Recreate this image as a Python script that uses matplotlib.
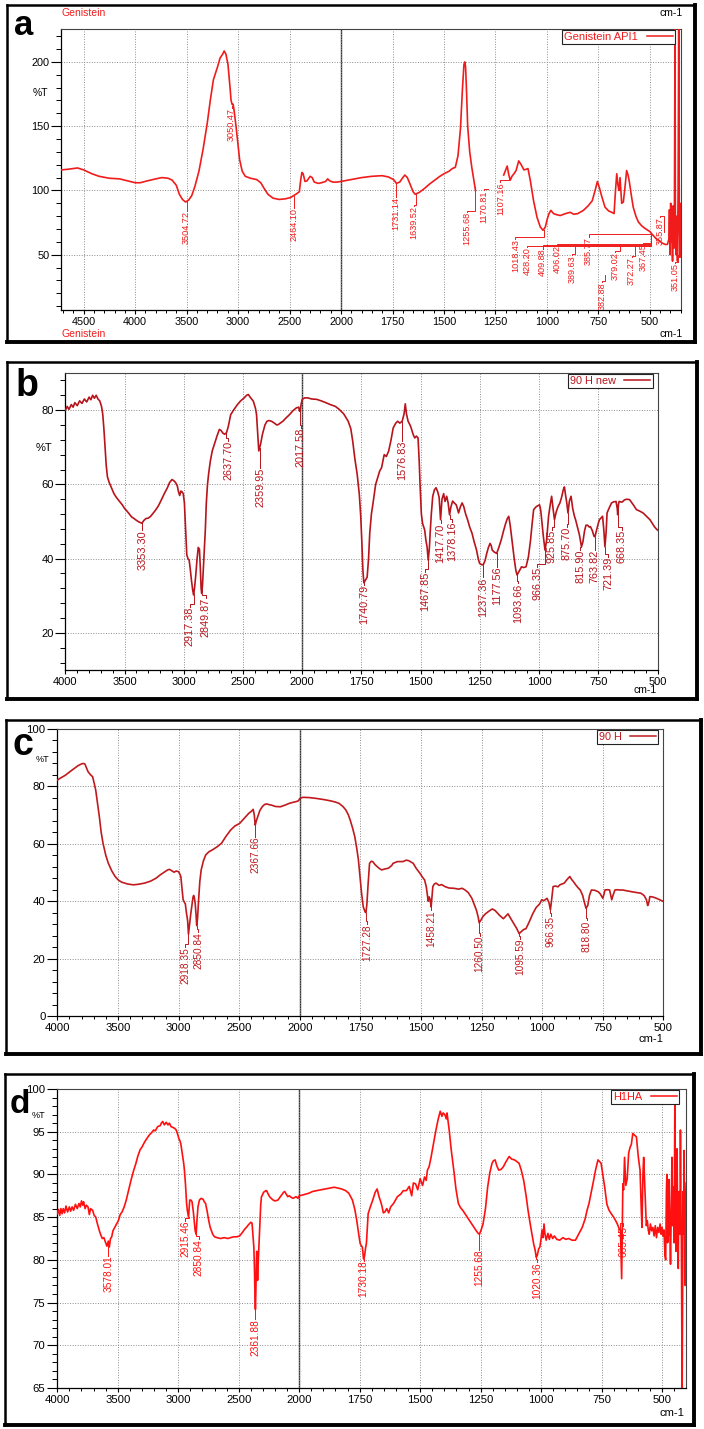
import numpy as np
import matplotlib
matplotlib.use("Agg")
import matplotlib.pyplot as plt
from matplotlib.lines import Line2D
from matplotlib.ticker import FixedLocator, MultipleLocator, FuncFormatter

plt.rcParams['font.family'] = ['Liberation Sans', 'DejaVu Sans']

nan = float('nan')

# ---------------- DATA ----------------
# Panel a : Genistein (wavenumber, %T)
a_pts = [(4716,116),(4650,116.5),(4560,117.5),(4500,116),(4420,113),(4350,111),(4250,109.5),(4150,109),
 (4050,107),(4000,106),(3950,106),(3880,107.5),(3800,109),(3740,110),(3680,109.5),(3640,108),(3600,104),
 (3570,97),(3540,93),(3510,91),(3480,92.5),(3450,96),(3420,103),(3380,115),(3340,132),(3300,152),(3270,170),
 (3240,186),(3200,196),(3175,203),(3150,206),(3135,208.5),(3118,206),(3098,198),(3078,180),(3068,170),
 (3058,167),(3048,167),(3040,163),(3020,150),(3000,135),(2985,124),(2960,115),(2930,111),(2880,109.5),
 (2820,108.5),(2780,106),(2750,102),(2710,97),(2660,94),(2600,93),(2540,93.5),(2490,94.5),(2460,96),
 (2430,97.5),(2405,99),(2392,108),(2380,114),(2368,113),(2350,107),(2330,107.5),(2300,111),(2280,110),
 (2260,106.5),(2220,105.5),(2190,106),(2150,107),(2130,109),(2110,107.5),(2080,106.5),(2040,106.5),
 (2000,107),(1950,108.5),(1900,110),(1850,111),(1800,111.5),(1770,110.5),(1745,108.5),(1731,105.5),
 (1715,106.5),(1700,110),(1690,112),(1678,110),(1665,105),(1650,99),(1640,97),(1620,98.5),(1595,101.5),
 (1570,105),(1545,108),(1520,111),(1500,113),(1475,115),(1460,117),(1445,118),(1432,127),(1420,148),
 (1410,180),(1403,198),(1399,200),(1395,196),(1390,175),(1385,150),(1375,130),(1365,118),(1355,108),
 (1347,100),(nan,nan),
 (1210,112),(1200,116),(1193,119),(1185,112),(1178,108),(1170,111),(1160,113),(1150,115.5),(1137,123),
 (1125,120),(1112,116),(1100,116.5),(1092,117),(1081,108),(1065,92),(1048,79),(1032,71.5),(1019,69),
 (1008,71.5),(998,78),(990,82),(981,84.5),(968,82),(950,81),(935,80.5),(910,82),(887,83),(870,81.5),
 (850,82),(823,84.5),(800,88),(780,92),(766,100),(755,107),(745,102),(735,96),(718,87),(700,84),(685,83),
 (674,82),(667,100),(661,113),(655,104),(650,100),(645,110),(640,98),(637,90),(629,91),(620,104),
 (613,115.5),(606,112),(600,107),(590,96),(581,87),(568,80),(556,75.5),(540,72.5),(524,70.5),(510,69),
 (500,68),(490,66),(484,65),(470,62.5),(455,61),(440,59),(425,58),(415,58),(408,62),(405,85),(402,50),
 (399,90),(396,60),(393,70),(390,45),(387,88),(384,55),(381,78),(378,226),(376,60),(372,50),(369,80),
 (366,45),(363,100),(360,226),(357,70),(354,48),(351,60),(349,90),(347,55)]

# Panel b : 90 H new
b_pts = [(4000,80),(3985,81),(3970,80.2),(3950,81.5),(3935,80.8),(3920,82),(3900,81.2),(3880,82.5),
 (3860,81.8),(3840,83),(3820,82.2),(3800,83.5),(3785,82.8),(3770,84),(3755,83.2),(3740,84),(3725,83),
 (3710,82.5),(3695,81),(3685,79),(3675,75),(3665,70),(3655,65),(3645,62),(3630,60.5),(3610,59),
 (3590,57.5),(3570,56.5),(3545,55.5),(3520,54.5),(3500,53.5),(3480,52.8),(3460,52),(3440,51.2),
 (3420,50.8),(3400,50.3),(3380,49.9),(3360,49.6),(3353,49.5),(3340,50.2),(3320,50.8),(3300,50.9),
 (3280,51.4),(3260,52.2),(3240,53),(3215,54.2),(3190,55.8),(3165,57.5),(3140,59),(3120,60.5),(3100,61.3),
 (3085,61),(3070,60.5),(3055,59.6),(3045,58),(3035,57),(3025,58.2),(3015,58),(3005,57.5),(2995,55),
 (2985,48),(2975,41),(2965,40),(2955,39.6),(2945,37),(2935,34),(2925,31.5),(2917,30.2),(2908,32.5),
 (2898,36),(2888,40),(2878,43),(2868,42.5),(2860,37),(2854,32),(2849,30.6),(2842,33),(2834,38),
 (2826,42.5),(2818,48),(2810,55),(2800,60),(2790,63),(2776,66.3),(2760,69),(2738,71.2),(2720,73),
 (2700,74.8),(2685,74.5),(2670,73.8),(2655,73.5),(2640,73.9),(2625,75.5),(2604,78.8),(2580,80),
 (2547,81.5),(2520,82.5),(2490,83.3),(2470,84),(2455,84.2),(2440,83.5),(2413,82.4),(2395,80.5),
 (2386,78.8),(2375,73),(2367,69),(2360,69.8),(2352,70.8),(2336,73.5),(2315,76),(2298,77),(2280,77.2),
 (2260,77),(2235,76.5),(2215,76),(2203,76.1),(2185,76.5),(2164,77),(2140,77.8),(2107,78.8),(2080,79.8),
 (2050,80.6),(2030,80.8),(2023,79.7),(2017,79.8),(2010,81.5),(2000,82.9),(1990,83.3),(1977,83.3),
 (1960,83),(1939,82.9),(1920,82.5),(1900,82),(1882,81.5),(1860,81),(1844,80.2),(1825,79),(1806,77),
 (1795,75),(1787,71.7),(1778,67),(1768,62.7),(1759,57.3),(1753,51.4),(1748,44),(1744,37),(1740,33.5),
 (1735,34),(1726,35),(1720,40),(1715,46.8),(1708,52),(1701,55),(1690,60),(1673,63.6),(1665,64.5),
 (1654,68),(1645,67.5),(1635,69),(1625,72),(1616,75.2),(1605,76.5),(1597,77),(1588,76.5),(1578,77),
 (1570,79),(1565,81.7),(1560,79),(1553,77),(1545,76),(1540,75.2),(1532,73.5),(1525,72.5),(1518,73),
 (1511,72.5),(1506,66),(1502,59.1),(1497,52),(1492,49.5),(1487,48.5),(1483,47.7),(1478,45),(1473,43.2),
 (1468,39.6),(1463,43),(1460,46.8),(1455,52),(1449,56.8),(1442,58.5),(1435,59.1),(1428,58),(1422,56.5),
 (1416,50.5),(1410,56),(1403,57.5),(1397,55.4),(1390,56.8),(1384,55),(1378,51.8),(1372,54),(1365,55.5),
 (1358,55),(1350,54.5),(1345,53.5),(1340,52.3),(1332,54),(1325,55),(1318,54),(1310,52),(1302,50.5),
 (1293,48.5),(1283,46.8),(1274,44.5),(1264,42.3),(1257,40),(1251,38.7),(1243,38.4),(1236,38.3),
 (1228,39.5),(1221,41.4),(1214,43),(1207,44.1),(1202,43.5),(1198,42.3),(1190,41.8),(1184,41.6),
 (1179,41.4),(1170,43),(1160,45),(1150,47.5),(1141,49.5),(1134,50.8),(1128,51.4),(1122,49),(1113,44.1),
 (1105,40),(1098,36.8),(1093,35.6),(1085,36.5),(1074,37.8),(1065,37.6),(1055,37.8),(1045,40.5),
 (1036,45),(1030,49),(1023,53.2),(1012,54),(998,54.5),(993,53),(989,50.5),(982,46),(975,42.3),(968,45),
 (960,51.4),(953,54.5),(947,56.8),(941,53.5),(935,50.5),(928,52.5),(920,54),(912,55),(905,56.5),
 (898,58.5),(893,59.3),(888,57),(883,55),(878,52.3),(872,55.5),(865,56.8),(858,53.5),(851,51.5),
 (846,50.5),(838,48.5),(830,46.5),(821,43.2),(815,44.5),(808,47.5),(802,49),(795,49),(788,48.5),
 (783,48.6),(775,47.5),(768,46),(764,45.9),(758,47.5),(750,49.5),(745,50.5),(738,51),(732,51.4),
 (727,48),(722,43.2),(717,47),(713,52.3),(705,53.5),(694,55),(685,55.3),(675,55.4),(670,53.5),
 (668,51.8),(665,54.5),(662,55.4),(650,55.2),(640,55.8),(630,56),(618,55.9),(608,55),(600,54.3),
 (589,53.2),(575,52.8),(561,52.3),(548,51.5),(532,50.5),(520,49.3),(513,48.6),(505,48),(500,47.7)]

# Panel c : 90 H
c_pts = [(4000,82.2),(3970,83),(3933,83.9),(3900,85),(3858,86.3),(3830,87.2),(3802,87.8),(3785,88),
 (3772,87.8),(3760,86.5),(3746,85.1),(3725,84),(3709,83.4),(3695,81),(3683,78.7),(3668,74),(3653,69.4),
 (3638,64),(3623,60.2),(3600,56),(3579,53.2),(3550,50.5),(3523,48.6),(3495,47.3),(3467,46.6),(3420,46),
 (3373,45.7),(3330,45.9),(3280,46.3),(3230,47),(3186,48),(3150,49.2),(3112,50.3),(3090,50.9),(3075,51.1),
 (3055,50.6),(3037,50.1),(3020,50.5),(3000,50.3),(2990,49.5),(2981,48.6),(2970,44),(2962,40.5),
 (2950,39.5),(2944,39.1),(2935,36),(2925,33.3),(2918,28.5),(2910,31.5),(2899,35.6),(2890,38.5),
 (2880,41.5),(2875,42),(2868,41),(2862,39),(2855,35),(2850,31.5),(2843,34),(2835,40),(2824,47),
 (2813,50.9),(2795,54),(2776,56.1),(2750,57.2),(2720,57.9),(2680,59),(2645,60.2),(2610,62.5),(2570,64.8),
 (2535,66.2),(2496,67.1),(2460,68.8),(2421,70.6),(2400,71.3),(2384,72),(2375,70),(2367,66.5),(2358,68),
 (2347,69.4),(2330,71.5),(2310,72.9),(2290,73.7),(2272,73.9),(2250,73.6),(2235,73.5),(2200,73),
 (2160,72.9),(2120,73.5),(2086,74.1),(2060,74.4),(2030,74.7),(2010,75),(2000,75.8),(1987,76.2),
 (1960,76.1),(1931,75.8),(1900,75.4),(1875,75),(1855,74.6),(1838,74.1),(1822,73),(1810,71.8),(1800,70.2),
 (1792,68.3),(1782,65.5),(1773,62.5),(1765,58.5),(1758,54.4),(1751,48),(1745,42.8),(1738,38),(1730,36.2),
 (1727,36),(1723,39),(1718,46),(1712,53.2),(1705,53.9),(1699,53.8),(1690,52.8),(1680,52),(1670,51.3),
 (1662,50.9),(1650,51.2),(1634,51.5),(1620,52.5),(1615,53.2),(1597,53.8),(1575,53.8),(1560,54.3),
 (1550,54.1),(1540,53.6),(1532,53.2),(1520,51.5),(1504,49.7),(1495,48.5),(1485,47.4),(1478,45),(1470,40),
 (1466,41.5),(1462,40.5),(1458,38),(1454,42),(1451,45.1),(1445,46),(1438,46.3),(1425,45.5),(1415,45.8),
 (1401,45.1),(1385,44.6),(1364,44.5),(1345,44.2),(1330,44.5),(1318,43.9),(1305,43),(1290,41),(1280,38.8),
 (1271,36.8),(1264,34.5),(1260,32.5),(1252,33.5),(1245,34.6),(1234,35.6),(1220,36.5),(1206,37.3),
 (1195,36.8),(1188,36.2),(1175,35),(1160,33.9),(1150,34.8),(1141,35.6),(1130,34),(1120,32.5),(1113,31.6),
 (1105,30.5),(1095,28.7),(1085,29.5),(1075,30.2),(1067,30.4),(1055,32.5),(1039,35.6),(1025,37.8),
 (1011,39),(1002,40.5),(993,40.2),(980,41),(972,39.5),(966,37),(961,40.5),(955,45.1),(945,45.3),(935,45),
 (927,45.7),(918,46),(909,46.3),(898,47.5),(886,48.6),(878,47.5),(871,46.8),(860,45.5),(850,44.5),
 (843,43.9),(833,42),(825,39.3),(819,37.5),(812,38.5),(805,42),(797,43.9),(783,43.8),(769,43.3),
 (760,42.5),(750,41),(745,42.5),(741,43.9),(730,44),(722,43.9),(717,42),(713,40.5),(708,42),(700,43.9),
 (690,44),(680,43.9),(667,43.9),(650,43.6),(630,43.3),(610,43),(593,42.8),(580,42),(570,40.5),(565,38.5),
 (563,38.7),(559,40),(556,41.6),(545,41.5),(535,41.2),(528,41),(515,40.5),(500,39.9)]

# Panel d : H1HA
d_pts = [(4000,85.4),(3990,85.9),(3980,85.2),(3970,86),(3960,85.4),(3951,86),(3940,85.5),(3928,86.3),
 (3915,85.6),(3900,86.2),(3890,85.7),(3877,86.2),(3865,85.8),(3850,86.5),(3835,86),(3821,86.6),(3810,86.2),
 (3800,86.9),(3790,86.4),(3783,86.8),(3770,86),(3760,86.4),(3746,86.2),(3735,85.3),(3725,86),(3708,85.8),
 (3695,85.2),(3682,85),(3670,84.3),(3660,83.8),(3652,83.4),(3640,82.9),(3628,82.5),(3615,82.6),(3600,82),
 (3590,81.6),(3578,82.2),(3570,81.5),(3560,82.5),(3550,82.7),(3540,83.4),(3525,83.8),(3510,84.2),
 (3495,84.6),(3480,85.3),(3465,85.6),(3447,86.2),(3430,87),(3410,88.2),(3391,89.3),(3370,90.4),
 (3350,91.3),(3335,92.1),(3315,92.9),(3300,93.2),(3278,93.8),(3260,94.2),(3240,94.6),(3220,94.9),
 (3203,95.2),(3190,95.1),(3170,95.6),(3150,95.7),(3140,96),(3129,96.2),(3115,95.8),(3100,96.1),
 (3085,95.8),(3073,96),(3060,95.6),(3045,95.5),(3030,95.4),(3017,95.2),(3005,94.7),(2995,94.2),
 (2985,93.9),(2979,93.6),(2965,92.3),(2955,91.3),(2949,90.5),(2940,88.8),(2931,86.6),(2925,85.8),
 (2920,85.4),(2915,85),(2910,86),(2905,87),(2895,87),(2886,86.8),(2875,85.6),(2866,84.2),(2860,83.4),
 (2852,83),(2846,84.5),(2837,86.2),(2825,87),(2811,87.2),(2795,87.1),(2785,86.8),(2774,86.6),(2760,85.6),
 (2748,84.6),(2736,83.8),(2715,83),(2700,82.7),(2680,82.6),(2650,82.5),(2620,82.6),(2590,82.5),
 (2568,82.6),(2540,82.7),(2515,82.7),(2493,82.8),(2470,83.2),(2450,83.6),(2437,83.8),(2420,84.1),
 (2400,84.4),(2390,84.3),(2381,82.6),(2375,81.5),(2370,79),(2366,76),(2362,74.2),(2358,76.5),(2354,79.5),
 (2351,81),(2347,79),(2344,77.6),(2338,80),(2332,82),(2325,84.5),(2318,86.5),(2312,87.4),(2307,87.5),
 (2295,87.9),(2285,88),(2276,88.1),(2269,88.1),(2260,87.8),(2245,87.4),(2232,87.2),(2215,87),(2200,86.9),
 (2176,87),(2160,87.3),(2145,87.6),(2130,87.9),(2120,88),(2108,87.7),(2095,87.4),(2082,87.5),(2065,87.3),
 (2050,87.2),(2026,87.4),(2010,87.2),(2000,87.5),(1985,87.6),(1960,87.8),(1945,88),(1929,88.1),
 (1910,88.2),(1890,88.3),(1870,88.4),(1855,88.5),(1840,88.4),(1825,88.3),(1808,88.1),(1795,87.8),
 (1780,87),(1770,85.9),(1762,84.6),(1755,83.2),(1748,81.9),(1742,81.6),(1739,81.5),(1734,80.1),
 (1730,80.4),(1726,81.3),(1722,82),(1718,84),(1715,85.4),(1706,86.2),(1696,87),(1686,87.9),(1678,88.3),
 (1670,87.4),(1663,86.8),(1659,86.4),(1652,85.5),(1646,85.6),(1638,86),(1630,85.5),(1622,86.2),
 (1610,86.6),(1594,87.4),(1580,87.7),(1570,88.1),(1557,88.1),(1545,88.6),(1535,87.5),(1528,89),
 (1519,88.9),(1510,88.2),(1500,89.5),(1490,88.7),(1482,89.7),(1475,89.3),(1470,90.5),(1463,90.9),
 (1455,92),(1445,93.6),(1436,95),(1426,96.4),(1420,97.1),(1417,97.4),(1410,96.8),(1405,97.2),(1398,97),
 (1392,96.5),(1389,97.2),(1385,96.3),(1380,95.2),(1372,93),(1361,90.5),(1352,88.3),(1342,86.6),
 (1333,86.1),(1324,85.8),(1310,85.2),(1296,84.6),(1282,84),(1268,83.4),(1260,83.1),(1255,83),(1248,83.5),
 (1240,84.2),(1230,86),(1221,88.5),(1212,90.2),(1203,91.3),(1197,91.6),(1190,91.7),(1183,91),(1175,90.5),
 (1165,90.6),(1156,90.9),(1145,91.5),(1132,92.1),(1122,91.8),(1110,91.7),(1100,91.5),(1091,91.3),
 (1082,90.5),(1072,89.3),(1062,87.5),(1054,85.8),(1045,84.2),(1035,82.6),(1031,81.9),(1025,81.2),
 (1020,80.3),(1016,80.5),(1010,81.3),(1005,81.5),(1001,82.3),(996,83.5),(992,82.6),(988,84.2),(984,83),
 (979,82.3),(972,83.1),(966,82.4),(960,83),(952,82.5),(945,82.8),(935,82.4),(923,82.3),(910,82.6),
 (898,82.4),(886,82.5),(872,82.3),(858,82.3),(845,83),(830,83.8),(818,84.8),(810,85.8),(802,86.6),
 (792,88),(783,89.3),(775,90.5),(765,91.7),(758,91.5),(752,91.3),(745,90),(737,88.5),(728,86.5),
 (719,85.8),(710,85.4),(700,85),(692,84.6),(685,84.2),(678,83.7),(672,83.4),(667,77.8),(664,84),
 (662,88.9),(659,88.2),(655,92),(650,88.7),(644,89.5),(638,92.5),(632,93.2),(627,93.5),(621,94.8),
 (614,94.6),(606,94.4),(598,92),(591,90.5),(586,86),(583,83.8),(579,90),(576,92),(572,89),(568,86.2),
 (565,84),(561,84.6),(557,83.5),(553,83),(548,84.2),(543,83.4),(538,83.8),(533,82.8),(528,84),
 (523,82.6),(518,83.8),(513,83.2),(508,84.2),(504,83),(500,83.8),(496,82.8),(492,83.5),(488,80.5),
 (485,80),(482,88),(480,90),(477,82),(474,83),(471,89.4),(468,84),(465,79.5),(462,86),(459,92),(456,84),
 (453,88.5),(450,82),(447,98.7),(444,85),(442,81),(440,90),(438,93),(435,82),(433,79),(431,86),(429,88),
 (426,83),(424,95.2),(422,87),(420,82),(418,70),(417,64),(415,75),(413,88),(411,83),(409,92.8),(406,84),
 (404,77),(402,86),(400,89)]

# Peak labels
a_labels = ['3504.72','3050.47','2464.10','1731.14','1639.52','1255.68','1170.81','1107.16','1018.43',
            '428.20','409.88','406.02','389.63','385.77','382.88','379.02','372.27','367.45','355.87','351.05']
b_labels = ['3353.30','2917.38','2849.87','2637.70','2359.95','2017.58','1740.79','1576.83','1467.85',
            '1417.70','1378.16','1237.36','1177.56','1093.66','966.35','925.85','875.70','815.90',
            '763.82','721.39','668.35']
c_labels = ['2918.35','2850.84','2367.66','1727.28','1458.21','1260.50','1095.59','966.35','818.80']
d_labels = ['3578.01','2915.46','2850.84','2361.88','1730.18','1255.68','1020.36','665.45']

legend_names = ['Genistein API1', '90 H new', '90 H', 'H1HA']
x_major = [4500, 4000, 3500, 3000, 2500, 2000, 1750, 1500, 1250, 1000, 750, 500]

# ---------------- LAYOUT ----------------
# label placement: (x_text, y_top, x_anchor, y_hook, y_anchor)
a_layout = [(3500,84,3500,84,91.5),(3062,164,3050,165.5,167),(2460,86,2460,86,96),(1733,95,1733,95,105.5),
 (1645,88,1638,89,97),(1387,83,1350,84,103),(1306,100,1285,101.5,101.5),(1226,106.5,1185,108,111),
 (1153,62.5,1016,63.5,69.5),(1097,56,497,57,67),(1021,54.8,497,57.8,67),(952,57.4,497,58.6,67),
 (879,49.6,862,50.5,56),(798,63.6,497,66.4,66.4),(734,28.7,718,29.6,34),(669,52.2,645,53,57),
 (589,48.3,572,49.2,57),(532,58.7,497,59.5,59.5),(452,79.3,432,80.2,68),(379,43.4,364,44.5,50)]
# (x_text, y_top, x_peak)
b_layout = [(3350,47.7,3353),(2948,27,2917),(2815,29.5,2849),(2623,71.7,2640),(2356,64.5,2360),
 (2011,75.2,2017),(1740,32.8,1740),(1578,71.7,1578),(1483,36.5,1468),(1416,49.5,1416),(1369,50,1378),
 (1236,35,1237),(1179,37.8,1179),(1087,33.3,1093),(1008,37.8,975),(947,47.7,935),(884,48.6,878),
 (827,42.3,821),(764,42.3,764),(708,40.5,722),(651,47.7,668)]
c_layout = [(2944,24,2918),(2839,29.2,2850),(2366,62.5,2367),(1723,32,1727),(1457,36.8,1458),
 (1258,28,1260),(1091,27,1095),(965,35,966),(816,33.3,819)]
d_layout = [(3578,80.5,3578),(2942,84.6,2915),(2830,82.4,2852),(2363,73.1,2362),(1734,79.9,1734),
 (1255,81.2,1255),(1016,79.7,1020),(660,84,672)]

W, H = 704, 1429
fig = plt.figure(figsize=(W / 100, H / 100), dpi=100)


def fwd(x):
    x = np.asarray(x, dtype=float)
    return np.where(x > 2000, 2000 + (x - 2000) / 2.0, x)


def inv(y):
    y = np.asarray(y, dtype=float)
    return np.where(y > 2000, 2000 + (y - 2000) * 2.0, y)


def ftxt(x, y, s, **kw):
    fig.text(x / W, 1 - y / H, s, **kw)


def frame(l, t, r, b):
    def seg(x0, y0, x1, y1, lw):
        fig.add_artist(Line2D([x0 / W, x1 / W], [1 - y0 / H, 1 - y1 / H], transform=fig.transFigure,
                              color='black', lw=lw, solid_capstyle='projecting'))
    seg(l, t, r, t, 1.8)
    seg(l, t, l, b, 1.8)
    seg(r, t, r, b, 2.8)
    seg(l, b, r, b, 2.8)


def make_axes(box, xlim, ylim, ymaj, ymin_step, tick_fs, color, legend, leg_off, leg_fs):
    l, t, r, b = box
    ax = fig.add_axes([l / W, 1 - b / H, (r - l) / W, (b - t) / H])
    ax.set_xscale('function', functions=(fwd, inv))
    ax.set_xlim(*xlim)
    ax.set_ylim(*ylim)
    lo, hi = min(xlim), max(xlim)
    majors = [v for v in x_major if lo <= v <= hi]
    minors = [v for v in list(range(2100, 5000, 100)) + list(range(300, 2000, 50))
              if lo <= v <= hi and v not in majors]
    ax.xaxis.set_major_locator(FixedLocator(majors))
    ax.xaxis.set_minor_locator(FixedLocator(minors))
    ax.xaxis.set_major_formatter(FuncFormatter(lambda v, p: f'{v:.0f}'))
    ax.yaxis.set_major_locator(FixedLocator(ymaj))
    ax.yaxis.set_minor_locator(MultipleLocator(ymin_step))
    ax.yaxis.set_major_formatter(FuncFormatter(lambda v, p: f'{v:.0f}'))
    ax.tick_params(axis='y', which='major', length=7, width=0.8, pad=1.5, labelsize=tick_fs)
    ax.tick_params(axis='y', which='minor', length=3.5, width=0.7)
    ax.tick_params(axis='x', which='major', length=3, width=0.8, pad=2, labelsize=tick_fs)
    ax.tick_params(axis='x', which='minor', length=2.2, width=0.7)
    ax.grid(True, which='major', ls=(0, (1, 1.6)), color='#8c8c8c', lw=0.7)
    ax.axvline(2000, color='#333333', lw=1.0, zorder=1.5)
    for s in ['left', 'bottom']:
        ax.spines[s].set_color('black')
        ax.spines[s].set_linewidth(0.9)
    for s in ['top', 'right']:
        ax.spines[s].set_color('#444444')
        ax.spines[s].set_linewidth(0.8)
    h = Line2D([], [], color=color, lw=1.1)
    leg = ax.legend([h], [legend], loc='upper right', bbox_to_anchor=(1 - leg_off / (r - l), 1 - 1.0 / (b - t)),
                    bbox_transform=ax.transAxes, borderaxespad=0, frameon=True, fancybox=False,
                    edgecolor='#222222', framealpha=1, markerfirst=False, handlelength=2.4,
                    handletextpad=0.8, borderpad=0.2, fontsize=leg_fs, labelcolor=color)
    leg.get_frame().set_linewidth(0.8)
    return ax


def plot_curve(ax, pts, color, lw):
    wn = np.array([p[0] for p in pts], dtype=float)
    T = np.array([p[1] for p in pts], dtype=float)
    ax.plot(wn, T, color=color, lw=lw, zorder=3)
    return wn, T


def simple_labels(ax, labels, layout, wn, T, color, fs, hook):
    ok = ~np.isnan(wn)
    xs, ys = wn[ok][::-1], T[ok][::-1]
    for txt, (xt, yt, xp) in zip(labels, layout):
        yc = float(np.interp(xp, xs, ys))
        yh = yt + hook
        if abs(xt - xp) < 1:
            lx, ly = [xt, xt], [yt, yc]
        else:
            lx, ly = [xt, xt, xp, xp], [yt, yh, yh, yc]
        ax.plot(lx, ly, color=color, lw=0.7, zorder=2.5)
        ax.text(xt, yt, txt, rotation=90, ha='center', va='top', fontsize=fs, color=color, clip_on=True)


# ---------------- PANEL A ----------------
A_COL = '#f01c1c'
axA = make_axes((61.4, 29, 681.4, 310), (4716, 347), (7, 225.6), [50, 100, 150, 200], 10, 7.8,
                A_COL, legend_names[0], 6, 8)
wnA, TA = plot_curve(axA, a_pts, A_COL, 1.2)
for txt, (xt, yt, xa, yh, ya) in zip(a_labels, a_layout):
    if abs(xt - xa) < 1:
        axA.plot([xt, xt], [yt, ya], color=A_COL, lw=0.7, zorder=2.5)
    else:
        axA.plot([xt, xt, xa, xa], [yt, yh, yh, ya], color=A_COL, lw=0.7, zorder=2.5)
    axA.text(xt, yt, txt, rotation=90, ha='center', va='top', fontsize=6.6, color=A_COL, clip_on=True)
frame(6.5, 5, 695, 342)
ftxt(61, 13, 'Genistein', color=A_COL, fontsize=7.5, ha='left', va='center')
ftxt(683, 13, 'cm-1', fontsize=7.5, ha='right', va='center')
ftxt(61, 334, 'Genistein', color=A_COL, fontsize=7.5, ha='left', va='center')
ftxt(683, 334, 'cm-1', fontsize=7.5, ha='right', va='center')
ftxt(40, 93, '%T', fontsize=7.5, ha='center', va='center')
ftxt(14, 35, 'a', fontsize=25, fontweight='bold', ha='left', va='baseline')

# ---------------- PANEL B ----------------
B_COL = '#b8141c'
axB = make_axes((65.4, 373, 657.5, 670), (4000, 500), (10, 90), [20, 40, 60, 80], 4, 8,
                B_COL, legend_names[1], 5, 7.8)
wnB, TB = plot_curve(axB, b_pts, B_COL, 1.2)
simple_labels(axB, b_labels, b_layout, wnB, TB, B_COL, 7.8, 0.8)
frame(7, 362, 697, 699)
ftxt(44, 448, '%T', fontsize=8, ha='center', va='center')
ftxt(657, 690, 'cm-1', fontsize=7.5, ha='right', va='center')
ftxt(16, 396, 'b', fontsize=27, fontweight='bold', ha='left', va='baseline')

# ---------------- PANEL C ----------------
C_COL = '#c01a1e'
axC = make_axes((57.3, 729, 663.4, 1016), (4000, 500), (0, 100), [0, 20, 40, 60, 80, 100], 4, 8.2,
                C_COL, legend_names[2], 5, 7.8)
wnC, TC = plot_curve(axC, c_pts, C_COL, 1.2)
simple_labels(axC, c_labels, c_layout, wnC, TC, C_COL, 7.3, 1.0)
frame(5.5, 720, 701, 1054)
ftxt(42, 760, '%T', fontsize=6.5, ha='center', va='center')
ftxt(663, 1039, 'cm-1', fontsize=8, ha='right', va='center')
ftxt(12, 755, 'c', fontsize=27, fontweight='bold', ha='left', va='baseline')

# ---------------- PANEL D ----------------
D_COL = '#ff1010'
axD = make_axes((57.3, 1089, 686, 1388), (4000, 401), (65, 100), [65, 70, 75, 80, 85, 90, 95, 100], 1, 8.2,
                D_COL, legend_names[3], 7, 7.8)
wnD, TD = plot_curve(axD, d_pts, D_COL, 1.2)
simple_labels(axD, d_labels, d_layout, wnD, TD, D_COL, 7.3, 0.35)
frame(4.5, 1074, 694, 1425)
ftxt(38, 1115, '%T', fontsize=6.5, ha='center', va='center')
ftxt(684, 1413, 'cm-1', fontsize=8, ha='right', va='center')
ftxt(10, 1113, 'd', fontsize=24, fontweight='bold', ha='left', va='baseline')

fig.savefig('out.png', dpi=100)
